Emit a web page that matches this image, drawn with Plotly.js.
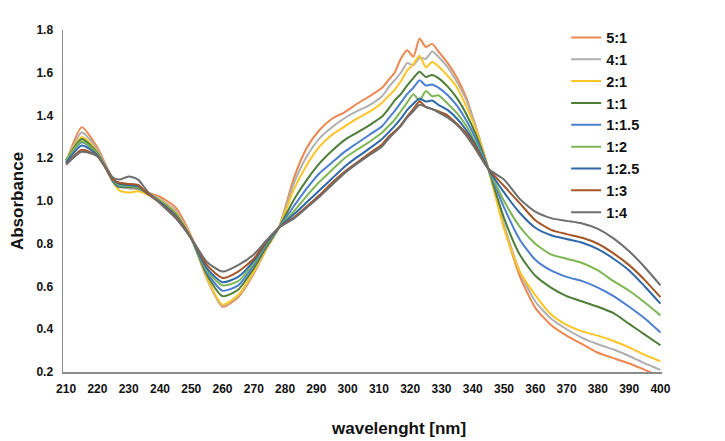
<!DOCTYPE html>
<html>
<head>
<meta charset="utf-8">
<script src="https://cdn.plot.ly/plotly-3.0.1.min.js"></script>
<style>html,body{margin:0;padding:0;background:#fff;}#chart{width:725px;height:441px;}</style>
</head>
<body>
<div id="chart"></div>
<script>
// wavelength grid (nm)
const wavelength = [210,215,220,225,227,230,233,236,240,245,250,255,260,265,270,274,278,
  283,287,291,295,299,303,307,311,313,315,317,319,321,323,325,327,329,332,335,338,341,345,
  350,355,360,365,370,375,380,385,390,395,400];

const seriesNames = ["5:1","4:1","2:1","1:1","1:1.5","1:2","1:2.5","1:3","1:4"];

const r5_1 = [1.18,1.345,1.25,1.10,1.07,1.06,1.055,1.04,1.02,0.97,0.835,0.64,0.505,0.55,0.66,0.775,0.875,
  1.115,1.25,1.332,1.385,1.415,1.455,1.49,1.53,1.565,1.60,1.665,1.705,1.675,1.76,1.72,1.735,1.70,1.645,1.575,1.48,1.345,1.15,
  0.88,0.65,0.50,0.42,0.37,0.33,0.29,0.265,0.24,0.21,0.18];
const r4_1 = [1.18,1.32,1.24,1.10,1.07,1.06,1.055,1.035,1.01,0.955,0.83,0.635,0.51,0.555,0.665,0.78,0.875,
  1.09,1.21,1.293,1.345,1.387,1.42,1.449,1.49,1.53,1.565,1.60,1.645,1.635,1.67,1.665,1.70,1.675,1.625,1.555,1.47,1.345,1.15,
  0.89,0.67,0.53,0.45,0.40,0.36,0.33,0.305,0.275,0.24,0.21];
const r2_1 = [1.19,1.30,1.23,1.09,1.05,1.04,1.045,1.03,1.005,0.945,0.83,0.64,0.515,0.56,0.67,0.78,0.875,
  1.06,1.17,1.254,1.31,1.348,1.385,1.418,1.46,1.49,1.52,1.56,1.61,1.64,1.68,1.625,1.65,1.63,1.585,1.53,1.44,1.335,1.15,
  0.87,0.67,0.56,0.47,0.42,0.39,0.37,0.345,0.315,0.28,0.25];
const r1_1 = [1.19,1.29,1.225,1.09,1.065,1.065,1.06,1.035,1.0,0.94,0.825,0.655,0.555,0.585,0.685,0.785,0.875,
  1.01,1.10,1.176,1.235,1.285,1.32,1.355,1.395,1.43,1.47,1.50,1.54,1.575,1.605,1.58,1.59,1.575,1.535,1.48,1.405,1.31,1.15,
  0.92,0.75,0.65,0.595,0.555,0.53,0.505,0.475,0.425,0.375,0.325];
const r1_15 = [1.19,1.275,1.22,1.095,1.07,1.07,1.065,1.035,1.0,0.935,0.825,0.665,0.58,0.605,0.70,0.795,0.875,
  0.98,1.06,1.13,1.18,1.23,1.27,1.31,1.35,1.385,1.42,1.46,1.50,1.53,1.565,1.54,1.545,1.53,1.495,1.445,1.375,1.29,1.15,
  0.97,0.82,0.725,0.675,0.645,0.625,0.595,0.555,0.505,0.45,0.385];
const r1_2 = [1.19,1.28,1.22,1.10,1.075,1.07,1.065,1.035,1.0,0.935,0.825,0.675,0.605,0.625,0.71,0.80,0.875,
  0.955,1.025,1.09,1.145,1.20,1.24,1.277,1.32,1.35,1.38,1.42,1.46,1.50,1.47,1.515,1.49,1.495,1.455,1.41,1.35,1.27,1.15,
  1.00,0.88,0.80,0.75,0.73,0.71,0.675,0.625,0.58,0.525,0.465];
const r1_25 = [1.18,1.26,1.215,1.10,1.08,1.075,1.07,1.035,0.995,0.93,0.825,0.685,0.62,0.645,0.72,0.805,0.875,
  0.94,0.995,1.05,1.105,1.16,1.205,1.246,1.29,1.32,1.35,1.385,1.425,1.455,1.48,1.465,1.47,1.45,1.425,1.385,1.33,1.26,1.15,
  1.04,0.945,0.875,0.84,0.822,0.805,0.775,0.73,0.675,0.60,0.52];
const r1_3 = [1.17,1.24,1.21,1.10,1.085,1.08,1.075,1.035,0.99,0.925,0.825,0.70,0.64,0.67,0.73,0.81,0.875,
  0.925,0.975,1.028,1.085,1.137,1.18,1.223,1.265,1.30,1.325,1.355,1.395,1.43,1.465,1.44,1.43,1.42,1.40,1.36,1.315,1.25,1.15,
  1.07,0.99,0.91,0.865,0.845,0.828,0.80,0.755,0.70,0.63,0.55];
const r1_4 = [1.17,1.23,1.21,1.11,1.10,1.115,1.10,1.045,0.99,0.92,0.825,0.715,0.67,0.70,0.75,0.815,0.875,
  0.92,0.97,1.02,1.075,1.13,1.175,1.215,1.255,1.29,1.32,1.35,1.39,1.42,1.45,1.44,1.43,1.415,1.39,1.355,1.305,1.24,1.15,
  1.10,1.01,0.95,0.92,0.907,0.895,0.87,0.825,0.765,0.69,0.605];

const xTicks = [210,220,230,240,250,260,270,280,290,300,310,320,330,340,350,360,370,380,390,400];
const yTicks = [0.2,0.4,0.6,0.8,1.0,1.2,1.4,1.6,1.8];

const seriesValues = [r5_1,r4_1,r2_1,r1_1,r1_15,r1_2,r1_25,r1_3,r1_4];
const colors = ["#EE8650","#AFAFAF","#FFC527","#4E7E38","#4B7FD0","#7DB653","#2F69AA","#A65527","#6E6E6E"];

const FONT = "Liberation Sans, Arial, sans-serif";

const traces = seriesNames.map((n,i)=>({
  type:"scatter", mode:"lines", name:n, x:wavelength, y:seriesValues[i],
  line:{color:colors[i], width:2, shape:"spline", smoothing:0.6}
}));

const layout = {
  width:725, height:441,
  margin:{l:63, r:63, t:30, b:69},
  paper_bgcolor:"#fff", plot_bgcolor:"#fff",
  font:{family:FONT, color:"#111"},
  showlegend:true,
  legend:{x:0.84, y:1.025, xanchor:"left", yanchor:"top", font:{family:FONT, size:14.5, weight:"bold", color:"#111"},
    bgcolor:"rgba(0,0,0,0)", tracegroupgap:0, itemwidth:30},
  xaxis:{range:[209,400.5], tickvals:xTicks, ticktext:xTicks.map(String), showgrid:false, zeroline:false,
    showline:true, linecolor:"#8c8c8c", linewidth:1.5, ticks:"outside", ticklen:5, tickcolor:"rgba(0,0,0,0)",
    tickfont:{family:FONT, size:12, weight:"bold", color:"#111"}},
  yaxis:{range:[0.2,1.8], tickvals:yTicks, ticktext:yTicks.map(v=>v.toFixed(1)), showgrid:false, zeroline:false,
    showline:true, linecolor:"#8c8c8c", linewidth:1.5, ticks:"outside", ticklen:6, tickcolor:"rgba(0,0,0,0)",
    tickfont:{family:FONT, size:12, weight:"bold", color:"#111"},
    title:{text:"Absorbance", font:{family:FONT, size:17, weight:"bold", color:"#111"}, standoff:8}},
  annotations:[{text:"wavelenght [nm]", xref:"paper", yref:"paper", x:(398-63)/599, y:-(428-372)/342,
    xanchor:"center", yanchor:"middle", showarrow:false, font:{family:FONT, size:17, weight:"bold", color:"#111"}}]
};

Plotly.newPlot("chart", traces, layout, {displayModeBar:false, staticPlot:true});
</script>
</body>
</html>
